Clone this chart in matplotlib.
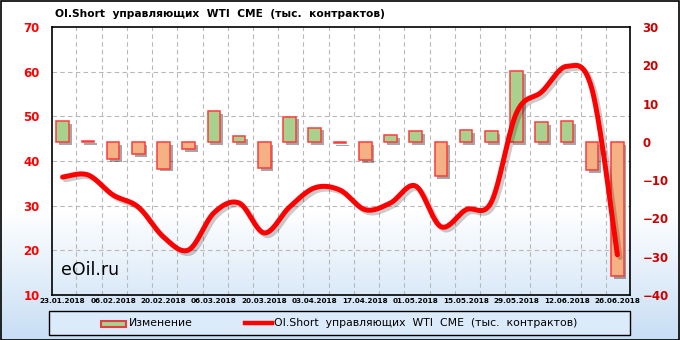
import matplotlib
import numpy as np

matplotlib.use("Agg")
import matplotlib.patheffects as pe
import matplotlib.pyplot as plt
from matplotlib.lines import Line2D
from matplotlib.patches import Rectangle

DATES = ["23.01.2018", "30.01.2018", "06.02.2018", "13.02.2018", "20.02.2018", "27.02.2018",
         "06.03.2018", "13.03.2018", "20.03.2018", "27.03.2018", "03.04.2018", "10.04.2018",
         "17.04.2018", "24.04.2018", "01.05.2018", "08.05.2018", "15.05.2018", "22.05.2018",
         "29.05.2018", "05.06.2018", "12.06.2018", "19.06.2018", "26.06.2018"]
# weekly change, right axis (thousand contracts)
CHANGE = [5.5, 0.3, -4.5, -3.2, -7.0, -1.8, 8.1, 1.4, -6.8, 6.6, 3.7, -0.3,
          -4.7, 1.8, 2.9, -8.9, 3.1, 2.9, 18.5, 5.2, 5.5, -7.3, -35.0]
# OI short of managed money, left axis
OI_SHORT = [36.4, 36.9, 32.4, 29.7, 23.0, 20.1, 28.4, 30.6, 23.9, 29.7, 34.0, 33.5,
            29.1, 30.6, 34.4, 25.3, 29.1, 30.8, 50.8, 55.5, 61.2, 55.9, 19.0]

TITLE = "OI.Short  управляющих  WTI  CME  (тыс.  контрактов)"
GREEN, ORANGE, RED = "#a9d18e", "#f4b183", "#ff0000"


def catmull_rom(xs, ys, n=24):
    pts = np.column_stack([xs, ys]).astype(float)
    P = np.vstack([pts[0], pts, pts[-1]])
    t = np.linspace(0, 1, n, endpoint=False)[:, None]
    segs = []
    for i in range(len(pts) - 1):
        p0, p1, p2, p3 = P[i], P[i + 1], P[i + 2], P[i + 3]
        segs.append(0.5 * (2 * p1 + (-p0 + p2) * t + (2 * p0 - 5 * p1 + 4 * p2 - p3) * t ** 2
                           + (-p0 + 3 * p1 - 3 * p2 + p3) * t ** 3))
    segs.append(pts[-1:])
    s = np.vstack(segs)
    return s[:, 0], s[:, 1]


W, H = 680, 340
fig = plt.figure(figsize=(W / 100, H / 100), dpi=100)

# background gradient: white on top, light blue towards the bottom
bg = fig.add_axes([0, 0, 1, 1], zorder=-10)
yy = np.linspace(0, 1, 200)
ramp = np.clip((yy - 0.62) / 0.38, 0, 1)[:, None]
top, bot = np.array([1, 1, 1]), np.array([0.78, 0.87, 0.96])
grad = top + (bot - top) * ramp[:, :, None] * np.ones((1, 2, 1))
bg.imshow(grad, aspect="auto", extent=[0, 1, 1, 0])
bg.set_xlim(0, 1); bg.set_ylim(1, 0); bg.axis("off")
fig.patches.append(Rectangle((0.5 / W, 0.5 / H), 1 - 1.5 / W, 1 - 1.5 / H, transform=fig.transFigure,
                             fill=False, ec="black", lw=1.2))

pos = [52 / W, 45 / H, 578 / W, 268 / H]
x = np.arange(len(DATES))
xlim = (-0.42, 22.5)

axg = fig.add_axes(pos, zorder=1)
axb = fig.add_axes(pos, zorder=2, sharex=axg)
axl = fig.add_axes(pos, zorder=3, sharex=axg)
for a in (axg, axb, axl):
    a.patch.set_visible(False)

# grid + left scale
axg.set_xlim(*xlim); axg.set_ylim(10, 70)
axg.set_yticks(range(10, 71, 10))
for v in range(20, 70, 10):
    axg.axhline(v, color="#b8b8b8", lw=0.8, ls=(0, (4, 3)))
for k in range(len(DATES) - 1):
    axg.axvline(k + 0.55, color="#b8b8b8", lw=0.8, ls=(0, (4, 3)))
axg.tick_params(axis="y", colors=RED, length=0, pad=9, labelsize=8.5)
for lb in axg.get_yticklabels():
    lb.set_fontweight("bold")
axg.set_xticks(x[::2])
axg.set_xticklabels(DATES[::2], fontsize=5.2, fontweight="bold")
axg.tick_params(axis="x", length=0, pad=2.5)
for s in axg.spines.values():
    s.set_color("black"); s.set_linewidth(1.2)

# bars on right scale
axb.set_ylim(-40, 30)
bars = axb.bar(x, CHANGE, width=0.5, color=[GREEN if c >= 0 else ORANGE for c in CHANGE],
               edgecolor="#ff3b3b", linewidth=1.1)
for b in bars:
    b.set_path_effects([pe.SimplePatchShadow(offset=(2, -2), shadow_rgbFace="black", alpha=0.35),
                        pe.Normal()])
axb.yaxis.tick_right()
axb.set_yticks(range(-40, 31, 10))
axb.tick_params(axis="y", colors="#cc0000", length=0, pad=9, labelsize=8.5)
for lb in axb.get_yticklabels():
    lb.set_fontweight("bold")
axb.tick_params(axis="x", bottom=False, labelbottom=False)
for s in axb.spines.values():
    s.set_visible(False)

# smoothed line on left scale
axl.set_ylim(10, 70)
sx, sy = catmull_rom(x, OI_SHORT)
axl.plot(sx, sy, color=RED, lw=3.6, solid_capstyle="round",
         path_effects=[pe.SimpleLineShadow(offset=(2, -2), alpha=0.2), pe.Normal()])
axl.set_yticks([]); axl.tick_params(axis="x", bottom=False, labelbottom=False)
for s in axl.spines.values():
    s.set_visible(False)
axl.text(0.016, 0.075, "eOil.ru", transform=axl.transAxes, fontsize=12.5, color="black")

fig.text(55 / W, 1 - 14 / H, TITLE, fontsize=7.7, fontweight="bold", va="center", ha="left")

# legend box at the bottom
fig.patches.append(Rectangle((49 / W, 5 / H), 581 / W, 24 / H, transform=fig.transFigure,
                             fc="#dcebfa", ec="black", lw=1))
sw = Rectangle((101 / W, 13 / H), 25 / W, 6 / H, transform=fig.transFigure,
               fc=GREEN, ec="#e04040", lw=1.5)
fig.patches.append(sw)
fig.text(129 / W, 17 / H, "Изменение", fontsize=7.8, va="center", ha="left")
fig.lines.append(Line2D([245 / W, 272 / W], [17 / H, 17 / H], transform=fig.transFigure,
                        color=RED, lw=3.2))
fig.text(274 / W, 17 / H, TITLE, fontsize=7.8, va="center", ha="left")

fig.savefig("out.png", dpi=100)
